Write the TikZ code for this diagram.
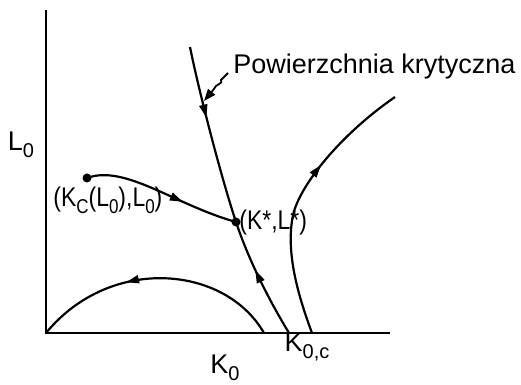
\documentclass[tikz,border=0pt]{standalone}
\usepackage{fontspec}
\setmainfont{Liberation Sans}
\newfontfamily\waska[FakeStretch=0.85]{Liberation Sans}
\usetikzlibrary{arrows.meta, decorations.markings}
\newcommand\dol[1]{\raisebox{-0.5ex}{\fontsize{10}{12}\selectfont #1}}
\tikzset{%
    >={Triangle[length=6.5pt,width=4pt]},
    os/.style       = {line width=1.4pt},
    krzywa/.style   = {line width=1.1pt},
    strzalka/.style = {postaction={decorate},
                       decoration={markings,
                         mark=at position #1 with {\arrow{>}}}},
    punkt/.style    = {circle, fill=black, inner sep=0pt, minimum size=4.5pt},
    opis/.style     = {inner sep=0pt, font=\fontsize{13.5}{16}\selectfont},
}
\begin{document}
\begin{tikzpicture}[x=0.5pt, y=-0.5pt]
    \useasboundingbox (0,0) rectangle (521,385);

    % osie
    \coordinate (ytop)  at (46,10);
    \coordinate (xend)  at (390,333);
    \coordinate (O)     at (46,333);
    \draw[os] (ytop) |- (xend);

    % punkty na osi i krzywych
    \coordinate (ktop)  at (190,47);
    \coordinate (k0c)   at (289,333);
    \coordinate (rbot)  at (312,333);
    \coordinate (rtop)  at (395,97);
    \coordinate (abot)  at (264,333);
    \coordinate (lead)  at (228,73);
    \node[punkt] (kc)    at (87,178)  {};
    \node[punkt] (kstar) at (236,222) {};

    % powierzchnia krytyczna
    \draw[krzywa, strzalka=0.4] (ktop) .. controls (199,92) and (222,180) .. (kstar.center);
    \draw[krzywa, strzalka=0.58] (k0c) .. controls (272,305) and (250,264) .. (kstar.center);
    % trajektorie
    \draw[krzywa, strzalka=0.64] (kc.center) .. controls (125,164) and (175,205) .. (kstar.center);
    \draw[krzywa, strzalka=0.64] (rbot) .. controls (296,290) and (286,250) .. (293,215)
        .. controls (300,185) and (340,135) .. (rtop);
    \draw[krzywa, strzalka=0.62] (abot) .. controls (225,265) and (110,255) .. (O);

    % opisy
    \node[opis, anchor=base west] (pow) at (233,74) {Powierzchnia krytyczna};
    \draw[line width=0.9pt, -{Triangle[length=6pt,width=4.5pt]}] (lead) -- (221,80) .. controls (224,84) and (215,84) .. (214,89) -- (204,101);
    \node[opis] (l0)   at (21,145)  {L\dol{0}};
    \node[opis] (k0)   at (225,368) {K\dol{0}};
    \node[opis] (k0cl) at (307,347) {K\dol{0,c}};
    \node[opis, anchor=west] (kcl) at (53,200) {\waska(K\dol{C}(L\dol{0}),L\dol{0})};
    \node[opis, anchor=west] (ksl) at (239,223) {\waska(K*,L*)};
\end{tikzpicture}
\end{document}
